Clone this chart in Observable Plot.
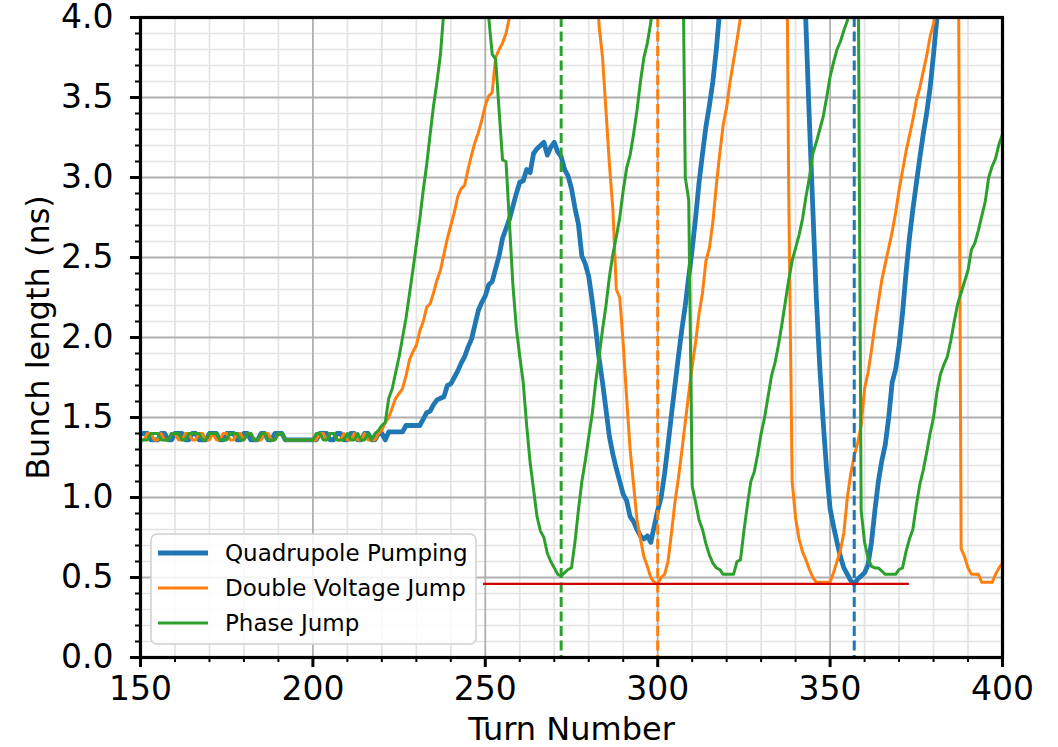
<!DOCTYPE html>
<html>
<head>
<meta charset="utf-8">
<script src="https://cdn.jsdelivr.net/npm/d3@7"></script>
<script src="https://cdn.jsdelivr.net/npm/@observablehq/plot@0.6"></script>
<style>
html, body { margin: 0; padding: 0; background: #fff; }
#chart { width: 1058px; height: 747px; overflow: hidden; }
</style>
</head>
<body>
<div id="chart"></div>
<script>
// ---- data: [turn, bunch length (ns)] ----
const quadrupolePumping = [
[150,1.40],[151,1.40],[152,1.40],[153,1.36],[154,1.36],[155,1.36],[156,1.40],[157,1.40],[158,1.36],[159,1.36],
[160,1.40],[161,1.40],[162,1.40],[163,1.36],[164,1.36],[165,1.40],[166,1.40],[167,1.36],[168,1.36],[169,1.36],
[170,1.40],[171,1.40],[172,1.40],[173,1.36],[174,1.36],[175,1.40],[176,1.40],[177,1.40],[178,1.36],[179,1.36],
[180,1.40],[181,1.40],[182,1.36],[183,1.36],[184,1.36],[185,1.40],[186,1.40],[187,1.36],[188,1.36],[189,1.40],
[190,1.40],[191,1.40],[192,1.36],[193,1.36],[194,1.36],[195,1.36],[196,1.36],[197,1.36],[198,1.36],[199,1.36],
[200,1.36],[201,1.36],[202,1.40],[203,1.40],[204,1.40],[205,1.36],[206,1.36],[207,1.40],[208,1.40],[209,1.36],
[210,1.36],[211,1.40],[212,1.40],[213,1.36],[214,1.36],[215,1.40],[216,1.40],[217,1.36],[218,1.36],[219,1.40],
[220,1.40],[221,1.36],[222,1.41],[223,1.41],[224,1.41],[225,1.41],[226,1.41],[227,1.45],[228,1.45],[229,1.45],
[230,1.45],[231,1.45],[232,1.49],[233,1.53],[234,1.54],[235,1.58],[236,1.61],[237,1.62],[238,1.63],[239,1.70],
[240,1.71],[241,1.75],[242,1.79],[243,1.84],[244,1.88],[245,1.94],[246,1.99],[247,2.08],[248,2.17],[249,2.22],
[250,2.26],[251,2.33],[252,2.35],[253,2.43],[254,2.51],[255,2.62],[256,2.68],[257,2.74],[258,2.82],[259,2.90],
[260,2.97],[261,2.98],[262,3.05],[263,3.03],[264,3.15],[265,3.18],[266,3.20],[267,3.22],[268,3.14],[269,3.19],
[270,3.22],[271,3.16],[272,3.13],[273,3.05],[274,3.01],[275,2.93],[276,2.81],[277,2.71],[278,2.51],[279,2.46],
[280,2.38],[281,2.23],[282,2.06],[283,1.87],[284,1.72],[285,1.55],[286,1.38],[287,1.27],[288,1.18],[289,1.10],
[290,1.02],[291,0.98],[292,0.88],[293,0.85],[294,0.80],[295,0.76],[296,0.74],[297,0.76],[298,0.72],[299,0.82],
[300,0.92],[301,1.00],[302,1.15],[303,1.33],[304,1.52],[305,1.70],[306,1.88],[307,2.05],[308,2.20],[309,2.38],
[310,2.55],[311,2.75],[312,2.97],[313,3.15],[314,3.32],[315,3.45],[316,3.60],[317,3.80],[318,4.05],[319,4.30],
[342,4.60],[343,3.95],[344,3.35],[345,2.80],[346,2.25],[347,1.82],[348,1.47],[349,1.17],
[350,0.93],[351,0.82],[352,0.72],[353,0.63],[354,0.56],[355,0.52],[356,0.48],[357,0.46],[358,0.49],[359,0.51],
[360,0.53],[361,0.58],[362,0.72],[363,0.92],[364,1.10],[365,1.23],[366,1.33],[367,1.50],[368,1.72],[369,1.80],
[370,1.95],[371,2.15],[372,2.40],[373,2.62],[374,2.80],[375,2.96],[376,3.12],[377,3.27],[378,3.40],[379,3.56],
[380,3.77],[381,4.00],[382,4.25]
];

const doubleVoltageJump = [
[150,1.36],[151,1.36],[152,1.40],[153,1.40],[154,1.36],[155,1.36],[156,1.40],[157,1.36],[158,1.36],[159,1.40],
[160,1.40],[161,1.36],[162,1.36],[163,1.40],[164,1.40],[165,1.36],[166,1.36],[167,1.40],[168,1.40],[169,1.36],
[170,1.36],[171,1.40],[172,1.36],[173,1.36],[174,1.40],[175,1.40],[176,1.36],[177,1.36],[178,1.40],[179,1.40],
[180,1.36],[181,1.40],[182,1.40],[183,1.36],[184,1.36],[185,1.36],[186,1.40],[187,1.40],[188,1.36],[189,1.36],
[190,1.40],[191,1.40],[192,1.36],[193,1.36],[194,1.36],[195,1.36],[196,1.36],[197,1.36],[198,1.36],[199,1.36],
[200,1.36],[201,1.36],[202,1.40],[203,1.40],[204,1.36],[205,1.40],[206,1.40],[207,1.36],[208,1.36],[209,1.40],
[210,1.36],[211,1.36],[212,1.40],[213,1.36],[214,1.36],[215,1.40],[216,1.36],[217,1.36],[218,1.36],[219,1.40],
[220,1.42],[221,1.47],[222,1.50],[223,1.56],[224,1.62],[225,1.65],[226,1.68],[227,1.76],[228,1.86],[229,1.91],
[230,1.95],[231,2.04],[232,2.10],[233,2.19],[234,2.21],[235,2.28],[236,2.36],[237,2.42],[238,2.52],[239,2.62],
[240,2.70],[241,2.78],[242,2.88],[243,2.93],[244,2.95],[245,3.05],[246,3.14],[247,3.22],[248,3.28],[249,3.36],
[250,3.45],[251,3.51],[252,3.53],[253,3.75],[254,3.80],[255,3.84],[256,3.90],[257,4.00],[258,4.20],
[282,4.30],[283,3.95],[284,3.75],[285,3.42],[286,3.08],[287,2.80],[288,2.30],[289,2.25],
[290,1.96],[291,1.62],[292,1.30],[293,1.08],[294,0.86],[295,0.74],[296,0.63],[297,0.57],[298,0.50],[299,0.47],
[300,0.46],[301,0.50],[302,0.52],[303,0.60],[304,0.78],[305,0.97],[306,1.12],[307,1.29],[308,1.47],[309,1.65],
[310,1.82],[311,1.97],[312,2.15],[313,2.28],[314,2.48],[315,2.56],[316,2.72],[317,2.95],[318,3.15],[319,3.33],
[320,3.44],[321,3.60],[322,3.73],[323,3.86],[324,4.00],[325,4.15],
[337,5.80],[338,2.90],[339,1.10],
[340,0.87],[341,0.74],[342,0.66],[343,0.61],[344,0.55],[345,0.50],[346,0.47],[347,0.47],[348,0.47],[349,0.47],
[350,0.47],[351,0.53],[352,0.60],[353,0.67],[354,0.78],[355,1.00],[356,1.15],[357,1.26],[358,1.34],[359,1.45],
[360,1.68],[361,1.78],[362,1.92],[363,2.08],[364,2.22],[365,2.36],[366,2.46],[367,2.56],[368,2.66],[369,2.78],
[370,2.92],[371,3.04],[372,3.16],[373,3.26],[374,3.36],[375,3.48],[376,3.56],[377,3.66],[378,3.76],[379,3.88],
[380,3.96],[381,4.10],
[387,5.50],[388,0.68],[389,0.63],
[390,0.56],[391,0.52],[392,0.52],[393,0.52],[394,0.47],[395,0.47],[396,0.47],[397,0.47],[398,0.52],[399,0.56],
[400,0.59]
];

const phaseJump = [
[150,1.36],[151,1.36],[152,1.36],[153,1.40],[154,1.40],[155,1.40],[156,1.36],[157,1.36],[158,1.36],[159,1.40],
[160,1.40],[161,1.40],[162,1.36],[163,1.36],[164,1.40],[165,1.40],[166,1.40],[167,1.40],[168,1.36],[169,1.36],
[170,1.40],[171,1.40],[172,1.40],[173,1.36],[174,1.36],[175,1.36],[176,1.40],[177,1.40],[178,1.40],[179,1.36],
[180,1.36],[181,1.40],[182,1.40],[183,1.36],[184,1.36],[185,1.40],[186,1.40],[187,1.36],[188,1.36],[189,1.36],
[190,1.40],[191,1.40],[192,1.36],[193,1.36],[194,1.36],[195,1.36],[196,1.36],[197,1.36],[198,1.36],[199,1.36],
[200,1.36],[201,1.40],[202,1.40],[203,1.36],[204,1.36],[205,1.40],[206,1.40],[207,1.36],[208,1.36],[209,1.36],
[210,1.40],[211,1.36],[212,1.36],[213,1.40],[214,1.36],[215,1.36],[216,1.40],[217,1.36],[218,1.40],[219,1.42],
[220,1.45],[221,1.47],[222,1.62],[223,1.68],[224,1.78],[225,1.88],[226,2.00],[227,2.12],[228,2.27],[229,2.42],
[230,2.58],[231,2.74],[232,2.92],[233,3.08],[234,3.27],[235,3.45],[236,3.60],[237,3.77],[238,4.05],[239,4.30],
[250,4.30],[251,4.00],[252,3.77],[253,3.74],[254,3.42],[255,3.11],[256,3.10],[257,2.72],[258,2.33],[259,2.06],
[260,1.88],[261,1.72],[262,1.45],[263,1.22],[264,1.05],[265,0.88],[266,0.79],[267,0.75],[268,0.65],[269,0.60],
[270,0.56],[271,0.52],[272,0.51],[273,0.53],[274,0.55],[275,0.56],[276,0.72],[277,0.92],[278,1.10],[279,1.23],
[280,1.38],[281,1.52],[282,1.72],[283,1.88],[284,2.05],[285,2.20],[286,2.38],[287,2.52],[288,2.63],[289,2.75],
[290,2.92],[291,3.06],[292,3.14],[293,3.27],[294,3.42],[295,3.60],[296,3.75],[297,3.84],[298,3.97],[299,4.20],
[307,5.00],[308,3.00],[309,2.86],
[310,1.07],[311,0.97],[312,0.86],[313,0.80],[314,0.71],[315,0.64],[316,0.59],[317,0.56],[318,0.55],[319,0.52],
[320,0.52],[321,0.52],[322,0.52],[323,0.60],[324,0.61],[325,0.79],[326,0.95],[327,1.10],[328,1.16],[329,1.27],
[330,1.40],[331,1.50],[332,1.63],[333,1.76],[334,1.84],[335,1.95],[336,2.08],[337,2.22],[338,2.36],[339,2.48],
[340,2.56],[341,2.64],[342,2.74],[343,2.88],[344,3.00],[345,3.15],[346,3.22],[347,3.30],[348,3.38],[349,3.50],
[350,3.63],[351,3.72],[352,3.80],[353,3.85],[354,3.92],[355,3.98],[356,4.10],
[358,5.00],[359,0.92],
[360,0.72],[361,0.62],[362,0.57],[363,0.56],[364,0.56],[365,0.54],[366,0.52],[367,0.52],[368,0.52],[369,0.52],
[370,0.55],[371,0.56],[372,0.66],[373,0.74],[374,0.80],[375,0.95],[376,1.08],[377,1.17],[378,1.28],[379,1.40],
[380,1.50],[381,1.66],[382,1.77],[383,1.83],[384,1.88],[385,1.98],[386,2.10],[387,2.21],[388,2.28],[389,2.35],
[390,2.42],[391,2.55],[392,2.59],[393,2.67],[394,2.76],[395,2.85],[396,3.00],[397,3.07],[398,3.12],[399,3.21],
[400,3.27]
];

// turn of minimum bunch length for each scheme (dashed markers)
const minimumTurns = [
  {series: "Phase Jump", turn: 272},
  {series: "Double Voltage Jump", turn: 300},
  {series: "Quadrupole Pumping", turn: 357}
];
// horizontal reference line
const referenceLine = [{value: 0.46, fromTurn: 249.5, toTurn: 373}];

const seriesNames = ["Quadrupole Pumping", "Double Voltage Jump", "Phase Jump"];
const xTickLabels = [150, 200, 250, 300, 350, 400];
const yTickLabels = [0, 0.5, 1, 1.5, 2, 2.5, 3, 3.5, 4];

// ---- styles ----
const colors = {"Quadrupole Pumping": "#1f77b4", "Double Voltage Jump": "#ff7f0e", "Phase Jump": "#2ca02c"};
const widths = {"Quadrupole Pumping": 4.8, "Double Voltage Jump": 3, "Phase Jump": 3};
const FONT = "'DejaVu Sans', sans-serif";

const toRows = arr => arr.map(([t, v]) => ({turn: t, length: v}));
const seriesData = {
  "Quadrupole Pumping": toRows(quadrupolePumping),
  "Double Voltage Jump": toRows(doubleVoltageJump),
  "Phase Jump": toRows(phaseJump)
};

const xMinor = d3.range(150, 401, 10).filter(v => v % 50 !== 0);
const yMinor = d3.range(0, 41).filter(i => i % 5 !== 0).map(i => i / 10);

const plot = Plot.plot({
  width: 1058,
  height: 747,
  marginLeft: 140,
  marginRight: 56,
  marginTop: 17,
  marginBottom: 90,
  style: {fontFamily: FONT, background: "white", color: "black"},
  x: {domain: [150, 400], label: null},
  y: {domain: [0, 4], label: null},
  marks: [
    Plot.ruleX(xMinor, {stroke: "#e3e3e3", strokeWidth: 1.7}),
    Plot.ruleY(yMinor, {stroke: "#e3e3e3", strokeWidth: 1.7}),
    Plot.ruleX(xTickLabels, {stroke: "#b0b0b0", strokeWidth: 1.8}),
    Plot.ruleY(yTickLabels, {stroke: "#b0b0b0", strokeWidth: 1.8}),
    ...seriesNames.map(name => Plot.line(seriesData[name], {
      x: "turn", y: "length", stroke: colors[name], strokeWidth: widths[name],
      strokeLinejoin: "round", strokeLinecap: "butt", clip: true
    })),
    ...minimumTurns.map(m => Plot.ruleX([m], {
      x: "turn", stroke: colors[m.series], strokeWidth: 3, strokeDasharray: "10,4.5"
    })),
    Plot.ruleY(referenceLine, {y: "value", x1: "fromTurn", x2: "toTurn", stroke: "#d00000", strokeWidth: 2.2}),
    Plot.frame({stroke: "black", strokeWidth: 3.2}),
    Plot.axisX({ticks: xMinor, tickSize: 5, strokeWidth: 2, tickFormat: () => "", label: null}),
    Plot.axisY({ticks: yMinor, tickSize: 5, strokeWidth: 2, tickFormat: () => "", label: null}),
    Plot.axisX({ticks: xTickLabels, tickSize: 10, strokeWidth: 3, tickPadding: 9, fontSize: 33,
      tickFormat: d => String(d), label: null}),
    Plot.axisY({ticks: yTickLabels, tickSize: 10, strokeWidth: 3, tickPadding: 17, fontSize: 33,
      tickFormat: d3.format(".1f"), label: null}),
    Plot.text(["Turn Number"], {frameAnchor: "bottom", dy: 72, textAnchor: "middle", lineAnchor: "middle", fontSize: 32, fill: "black"}),
    Plot.text(["Bunch length (ns)"], {frameAnchor: "left", dx: -102, rotate: -90, textAnchor: "middle", lineAnchor: "middle", fontSize: 32, fill: "black"})
  ]
});

document.getElementById("chart").appendChild(plot);

// ---- legend (matplotlib style box, lower left) ----
const svg = d3.select(plot);
const lg = svg.append("g").attr("font-family", FONT).attr("text-anchor", "start");
lg.append("rect")
  .attr("x", 151).attr("y", 534).attr("width", 325).attr("height", 110)
  .attr("rx", 6).attr("ry", 6)
  .attr("fill", "white").attr("fill-opacity", 0.85)
  .attr("stroke", "#d0d0d0").attr("stroke-width", 1.5);
seriesNames.forEach((name, i) => {
  const cy = 553 + i * 35;
  lg.append("line").attr("x1", 158).attr("x2", 208).attr("y1", cy).attr("y2", cy)
    .attr("stroke", colors[name]).attr("stroke-width", widths[name]);
  lg.append("text").attr("x", 225).attr("y", cy).attr("dy", "0.35em")
    .attr("text-anchor", "start")
    .attr("font-size", 23).attr("fill", "black").text(name);
});
</script>
</body>
</html>
